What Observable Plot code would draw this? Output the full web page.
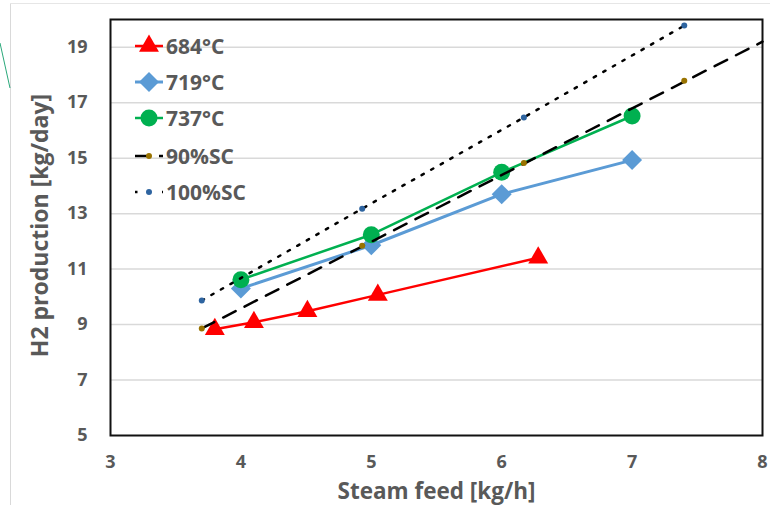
<!DOCTYPE html>
<html>
<head>
<meta charset="utf-8">
<script src="https://cdn.jsdelivr.net/npm/d3@7"></script>
<script src="https://cdn.jsdelivr.net/npm/@observablehq/plot@0.6"></script>
<style>
  html, body { margin: 0; padding: 0; background: #fff; }
  #wrap { position: relative; width: 770px; height: 505px; overflow: hidden; }
  #wrap > svg.overlay { position: absolute; left: 0; top: 0; pointer-events: none; }
  #chart { position: absolute; left: 0; top: 0; }
</style>
</head>
<body>
<div id="wrap"><div id="chart"></div></div>
<script>
// ---- data ----
const xTicks = [3, 4, 5, 6, 7, 8];
const yTicks = [5, 7, 9, 11, 13, 15, 17, 19];

const steam684 = [3.80, 4.10, 4.51, 5.05, 6.28];
const h2_684   = [8.83, 9.08, 9.48, 10.07, 11.41];

const steam719 = [4, 5, 6, 7];
const h2_719   = [10.30, 11.86, 13.70, 14.93];

const steam737 = [4, 5, 6, 7];
const h2_737   = [10.62, 12.24, 14.49, 16.52];

const steam90  = [3.70, 4.93, 6.17, 7.40];
const h2_90    = [8.86, 11.84, 14.83, 17.79];
const steam90Line = [3.70, 8.00];
const h2_90Line   = [8.86, 19.20];

const steam100 = [3.70, 4.93, 6.17, 7.40];
const h2_100   = [9.87, 13.18, 16.47, 19.78];

const seriesNames = ["684°C", "719°C", "737°C", "90%SC", "100%SC"];
const xTitle = "Steam feed [kg/h]";
const yTitle = "H2 production [kg/day]";

const zip = (xs, ys) => xs.map((x, i) => ({x, y: ys[i]}));
const d684 = zip(steam684, h2_684);
const d719 = zip(steam719, h2_719);
const d737 = zip(steam737, h2_737);
const d90 = zip(steam90, h2_90);
const d90L = zip(steam90Line, h2_90Line);
const d100 = zip(steam100, h2_100);

const RED = "#ff0000", BLUE = "#5b9bd5", GREEN = "#00b050", BROWN = "#997300", DBLUE = "#2e64a0";
const FONT = "'Open Sans', Lato, sans-serif";
const GRAY = "#595959";

const chart = Plot.plot({
  width: 770,
  height: 505,
  marginTop: 19,
  marginRight: 8,
  marginBottom: 70,
  marginLeft: 110,
  style: {fontFamily: FONT, fontWeight: "bold", color: GRAY, background: "transparent"},
  x: {domain: [3, 8]},
  y: {domain: [5, 20]},
  marks: [
    Plot.gridY(yTicks.filter(v => v > 5), {stroke: "#d9d9d9", strokeOpacity: 1, strokeWidth: 1.5}),
    Plot.frame({stroke: "#111", strokeWidth: 2}),
    Plot.axisX(xTicks, {tickSize: 0, tickPadding: 20, fontSize: 18, tickFormat: d3.format("d"), label: null}),
    Plot.axisY(yTicks, {tickSize: 0, tickPadding: 23, fontSize: 18, tickFormat: d3.format("d"), label: null}),
    Plot.text([xTitle], {frameAnchor: "bottom", textAnchor: "middle", lineAnchor: "middle", dy: 56, fontSize: 22.5, fill: GRAY}),
    Plot.text([yTitle], {frameAnchor: "left", textAnchor: "middle", lineAnchor: "middle", rotate: -90, dx: -70, dy: -2, fontSize: 23, fill: GRAY}),
    // 684
    Plot.line(d684, {x: "x", y: "y", stroke: RED, strokeWidth: 2.5}),
    Plot.dot(d684, {x: "x", y: "y", symbol: "triangle", r: 7.4, fill: RED, stroke: "none"}),
    // 719
    Plot.line(d719, {x: "x", y: "y", stroke: BLUE, strokeWidth: 3}),
    Plot.dot(d719, {x: "x", y: "y", symbol: "diamond2", r: 9, fill: BLUE, stroke: "none"}),
    // 737
    Plot.line(d737, {x: "x", y: "y", stroke: GREEN, strokeWidth: 2.5}),
    Plot.dot(d737, {x: "x", y: "y", symbol: "circle", r: 8.5, fill: GREEN, stroke: "none"}),
    // 90%SC
    Plot.line(d90L, {x: "x", y: "y", stroke: "#000", strokeWidth: 2.5, strokeDasharray: "14,10"}),
    Plot.dot(d90, {x: "x", y: "y", r: 3, fill: BROWN, stroke: "none"}),
    // 100%SC
    Plot.line(d100, {x: "x", y: "y", stroke: "#000", strokeWidth: 2.5, strokeDasharray: "2.5,8.5"}),
    Plot.dot(d100, {x: "x", y: "y", r: 3, fill: DBLUE, stroke: "none"})
  ]
});
document.getElementById("chart").appendChild(chart);

// ---- overlay: outer border remnants + legend ----
const ov = d3.select("#wrap").append("svg").attr("class", "overlay")
  .attr("width", 770).attr("height", 505);
ov.append("line").attr("x1", 10.5).attr("x2", 10.5).attr("y1", 3).attr("y2", 505)
  .attr("stroke", "#d9d9d9").attr("stroke-width", 1);
ov.append("line").attr("x1", 10).attr("x2", 770).attr("y1", 3.5).attr("y2", 3.5)
  .attr("stroke", "#e6e6e6").attr("stroke-width", 1);
ov.append("line").attr("x1", 0).attr("y1", 43).attr("x2", 10).attr("y2", 88)
  .attr("stroke", "#2aa87a").attr("stroke-width", 1);

const legendStyle = [
  {name: seriesNames[0], stroke: RED, w: 2.5, dash: null, sym: d3.symbolTriangle, r: 7.4, fill: RED},
  {name: seriesNames[1], stroke: BLUE, w: 3, dash: null, sym: d3.symbolDiamond2, r: 9, fill: BLUE},
  {name: seriesNames[2], stroke: GREEN, w: 2.5, dash: null, sym: d3.symbolCircle, r: 8.5, fill: GREEN},
  {name: seriesNames[3], stroke: "#000", w: 2.5, dash: "14,10", sym: d3.symbolCircle, r: 3, fill: BROWN},
  {name: seriesNames[4], stroke: "#000", w: 2.5, dash: "2.5,11", sym: d3.symbolCircle, r: 3, fill: DBLUE}
];
const lg = ov.append("g");
const rowY = [46, 82, 118, 156, 192];
legendStyle.forEach((s, i) => {
  const g = lg.append("g").attr("transform", `translate(0,${rowY[i]})`);
  g.append("line").attr("x1", 135).attr("x2", 163).attr("y1", 0).attr("y2", 0)
    .attr("stroke", s.stroke).attr("stroke-width", s.w)
    .attr("stroke-dasharray", s.dash);
  g.append("path").attr("transform", "translate(149,0)")
    .attr("d", d3.symbol(s.sym, s.r * s.r * Math.PI)()).attr("fill", s.fill);
  g.append("text").attr("x", 166).attr("y", 0).attr("dy", "0.36em")
    .attr("font-family", FONT).attr("font-weight", "bold").attr("font-size", 21)
    .attr("fill", GRAY).text(s.name);
});
</script>
</body>
</html>
